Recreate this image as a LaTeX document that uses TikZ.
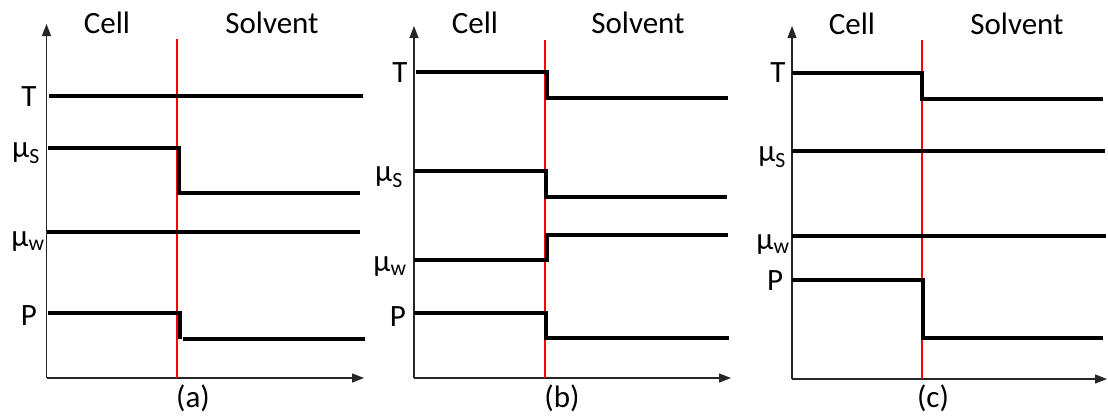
\documentclass[tikz,border=0pt]{standalone}
\usepackage{fontspec}
\setmainfont{Carlito}
\usetikzlibrary{arrows.meta}
\tikzset{
  axis/.style={line width=1.3pt, draw=black!85, -{Triangle[length=12pt,width=9pt]}},
  yaxis/.style={line width=1.3pt, draw=black!85},
  iface/.style={line width=1.5pt, draw=red},
  level/.style={line width=4pt, draw=black, line join=miter},
  lbl/.style={font=\fontsize{31}{33}\selectfont, inner sep=0pt},
  ttl/.style={font=\fontsize{31}{34}\selectfont, inner sep=0pt},
}
\newcommand{\muS}{μ\textsubscript{S}}
\newcommand{\muW}{μ\textsubscript{w}}
\begin{document}
\begin{tikzpicture}[x=1pt,y=-1pt]
\useasboundingbox (0,0) rectangle (1108,418);
% ---------- panel (a) ----------
\coordinate (a0) at (46.5,378);
\draw[yaxis, -{Triangle[length=12pt,width=9pt]}] (a0) -- (46.5,24);
\draw[axis] (a0) -- (364,378);
\draw[iface] (177,39) -- (177,378);
\draw[level] (49,96) -- (363,96);
\draw[level] (48,148) -- (179,148) -- (179,193) -- (360,193);
\draw[level] (47,232) -- (360,232);
\draw[level] (48,313) -- (180,313) -- (180,339);
\draw[level] (183,339) -- (365,339);
\node[ttl] (ca) at (107,23) {Cell};
\node[ttl] (sa) at (272,23) {Solvent};
\node[lbl] (ta) at (29,97) {T};
\node[lbl] (msa) at (26,153) {\muS};
\node[lbl] (mwa) at (28,242) {\muW};
\node[lbl] (pa) at (29,316) {P};
\node[ttl] (la) at (193,398) {(a)};
% ---------- panel (b) ----------
\coordinate (b0) at (414,378);
\draw[yaxis, -{Triangle[length=12pt,width=9pt]}] (b0) -- (414,26);
\draw[axis] (b0) -- (731,378);
\draw[iface] (545,40) -- (545,378);
\draw[level] (416,72) -- (547,72) -- (547,98) -- (728,98);
\draw[level] (414,171) -- (546,171) -- (546,197) -- (727,197);
\draw[level] (414,260) -- (547,260) -- (547,235) -- (728,235);
\draw[level] (414,313) -- (546,313) -- (546,338) -- (729,338);
\node[ttl] (cb) at (475,23) {Cell};
\node[ttl] (sb) at (638,23) {Solvent};
\node[lbl] (tb) at (400,73) {T};
\node[lbl] (msb) at (389,177) {\muS};
\node[lbl] (mwb) at (390,267) {\muW};
\node[lbl] (pb) at (398,317) {P};
\node[ttl] (lb) at (562,398) {(b)};
% ---------- panel (c) ----------
\coordinate (c0) at (792,379);
\draw[yaxis, -{Triangle[length=12pt,width=9pt]}] (c0) -- (792,26);
\draw[axis] (c0) -- (1107,379);
\draw[iface] (922,40) -- (922,379);
\draw[level] (792,73) -- (922,73) -- (922,99) -- (1103,99);
\draw[level] (792,151) -- (1105,151);
\draw[level] (792,236) -- (1106,236);
\draw[level] (792,280) -- (923,280) -- (923,338) -- (1103,338);
\node[ttl] (cc) at (852,24) {Cell};
\node[ttl] (sc) at (1017,24) {Solvent};
\node[lbl] (tc) at (778,73) {T};
\node[lbl] (msc) at (772,157) {\muS};
\node[lbl] (mwc) at (773,245) {\muW};
\node[lbl] (pc) at (775,281) {P};
\node[ttl] (lc) at (933,398) {(c)};
\end{tikzpicture}
\end{document}
